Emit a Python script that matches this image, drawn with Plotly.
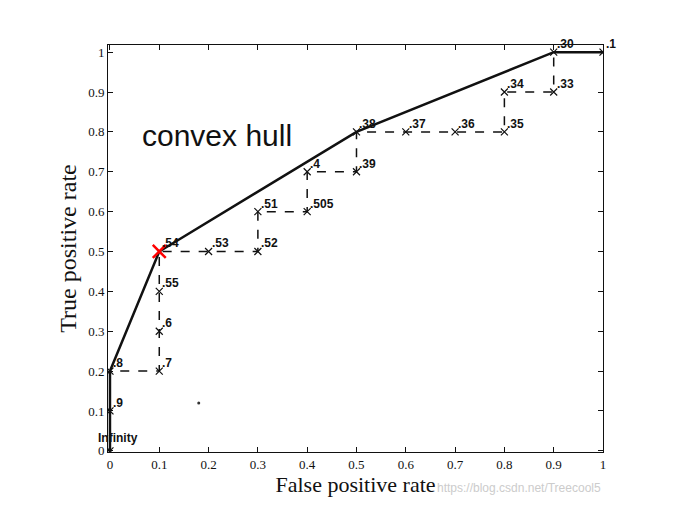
import plotly.graph_objects as go

fpr = [0, 0, 0, 0.1, 0.1, 0.1, 0.1, 0.2, 0.3, 0.3, 0.4, 0.4, 0.5, 0.5, 0.6, 0.7, 0.8, 0.8, 0.9, 0.9, 1.0]
tpr = [0, 0.1, 0.2, 0.2, 0.3, 0.4, 0.5, 0.5, 0.5, 0.6, 0.6, 0.7, 0.7, 0.8, 0.8, 0.8, 0.8, 0.9, 0.9, 1.0, 1.0]
thresholds = ["Infinity", ".9", ".8", ".7", ".6", ".55", ".54", ".53", ".52", ".51", ".505", ".4", ".39", ".38", ".37", ".36", ".35", ".34", ".33", ".30", ".1"]
hull_x = [0, 0, 0.1, 0.5, 0.9, 1.0]
hull_y = [0, 0.2, 0.5, 0.8, 1.0, 1.0]
ticks = [i / 10 for i in range(11)]
x_ticktext = ["0", "0.1", "0.2", "0.3", "0.4", "0.5", "0.6", "0.7", "0.8", "0.9", "1"]
y_ticktext = ["0", "0.1", "0.2", "0.3", "0.4", "0.5", "0.6", "0.7", "0.8", "0.9", "1"]

fig = go.Figure()
fig.add_trace(go.Scatter(x=hull_x, y=hull_y, mode="lines", line=dict(color="#111", width=2.5)))
fig.add_trace(go.Scatter(x=fpr, y=tpr, mode="lines+markers", line=dict(color="#111", width=1.5, dash="dash"),
                         marker=dict(symbol="x-thin", size=7, line=dict(color="#111", width=1.2))))
fig.add_trace(go.Scatter(x=[0.1], y=[0.5], mode="markers",
                         marker=dict(symbol="x-thin", size=13, line=dict(color="red", width=2.5))))
fig.add_trace(go.Scatter(x=[0.18], y=[0.12], mode="markers", marker=dict(color="#333", size=3)))
for x, y, t in zip(fpr, tpr, thresholds):
    if t == "Infinity":
        fig.add_annotation(x=x, y=y, text="<b>" + t + "</b>", showarrow=False, xanchor="left", yanchor="bottom",
                           xshift=-14, yshift=4, font=dict(family="Liberation Sans", size=12, color="#111"))
    else:
        fig.add_annotation(x=x, y=y, text="<b>" + t + "</b>", showarrow=False, xanchor="left", yanchor="bottom",
                           xshift=1, yshift=-1, font=dict(family="Liberation Sans", size=12, color="#111"))
fig.add_annotation(x=0.06, y=0.79, text="convex hull", showarrow=False, xanchor="left",
                   font=dict(family="Liberation Sans", size=30, color="#111"))
fig.add_annotation(x=1.0, y=-0.11, xref="paper", yref="paper", text="https://blog.csdn.net/Treecool5", showarrow=False,
                   xanchor="right", font=dict(family="Liberation Sans", size=12, color="#ccc"))
ax = dict(showgrid=False, zeroline=False, showline=True, mirror="ticks", linecolor="#111", linewidth=1,
          ticks="inside", ticklen=5, tickcolor="#111", tickfont=dict(family="Liberation Serif", size=13, color="#111"))
fig.update_layout(
    width=691, height=522, showlegend=False, plot_bgcolor="white", paper_bgcolor="white",
    margin=dict(l=100, r=96, t=37, b=78, autoexpand=False),
    xaxis=dict(ax, range=[-0.004, 1.0], tickvals=ticks, ticktext=x_ticktext,
               title=dict(text="False positive rate", font=dict(family="Liberation Serif", size=22, color="#111"), standoff=4)),
    yaxis=dict(ax, range=[-0.003, 1.018], tickvals=ticks, ticktext=y_ticktext,
               title=dict(text="True positive rate", font=dict(family="Liberation Serif", size=24, color="#111"), standoff=4)),
)
fig.write_html("out.html")
